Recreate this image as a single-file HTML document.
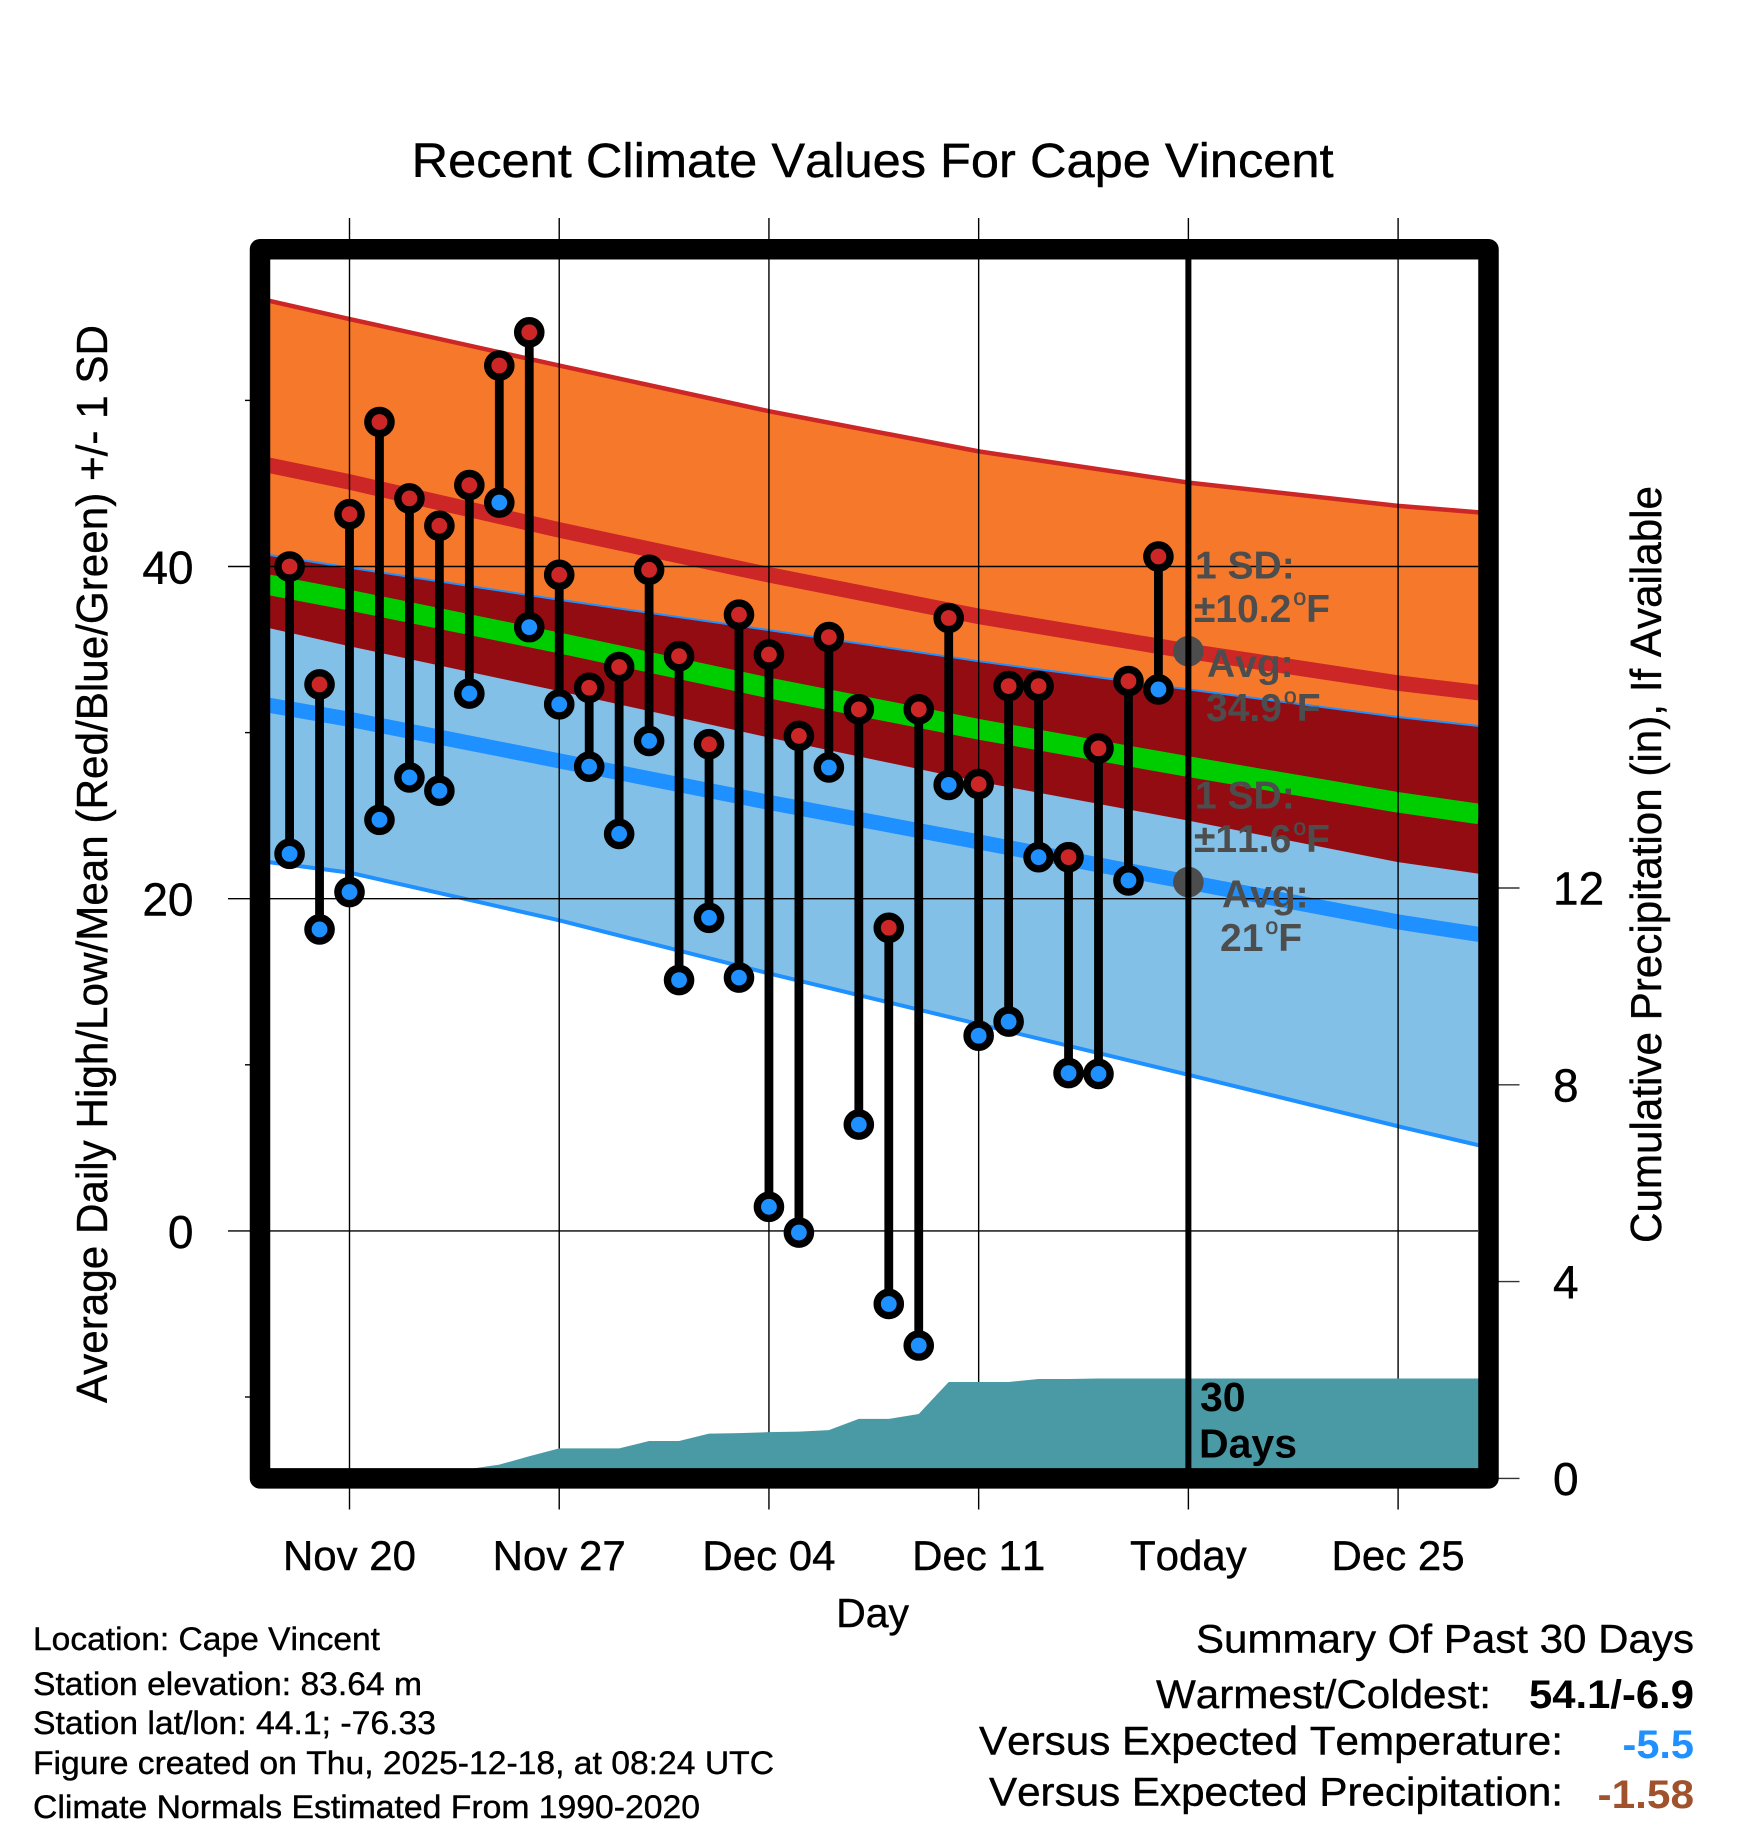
<!DOCTYPE html>
<html lang="en">
<head>
<meta charset="utf-8">
<title>Recent Climate Values For Cape Vincent</title>
<style>
html,body{margin:0;padding:0;background:#fff;}
svg{display:block;}
text{font-family:"Liberation Sans",sans-serif;fill:#000;font-kerning:none;stroke:#000;stroke-width:.4;}
text[font-weight]{stroke:none;}
.ann{font-weight:bold;font-size:39px;fill:#4d4d4d;stroke:none;}
.sup{font-size:23px;font-weight:normal;stroke:#4d4d4d;stroke-width:.5;}
</style>
</head>
<body>
<svg id="chart" xmlns="http://www.w3.org/2000/svg" width="1748" height="1828" viewBox="0 0 1748 1828">
  <rect width="1748" height="1828" fill="#fff"/>
  <g id="bands"></g>
  <g id="grid"></g>
  <g id="precip"></g>
  <g id="marks"></g>
  <g id="frame"></g>
  <g id="ticklabels"></g>

  <text x="872.6" y="176.8" text-anchor="middle" font-size="48" textLength="922" lengthAdjust="spacingAndGlyphs">Recent Climate Values For Cape Vincent</text>
  <text transform="translate(107,864) rotate(-90)" text-anchor="middle" font-size="44" textLength="1078" lengthAdjust="spacingAndGlyphs">Average Daily High/Low/Mean (Red/Blue/Green) +/- 1 SD</text>
  <text transform="translate(1661,864.5) rotate(-90)" text-anchor="middle" font-size="44" textLength="757" lengthAdjust="spacingAndGlyphs">Cumulative Precipitation (in), If Available</text>
  <text x="872.6" y="1627" text-anchor="middle" font-size="41">Day</text>

  <text class="ann" x="1195" y="578.6">1 SD:</text>
  <text class="ann" x="1194" y="622">±10.2<tspan class="sup" dx="2" dy="-17">o</tspan><tspan dy="17">F</tspan></text>
  <text class="ann" x="1207" y="676.8">Avg:</text>
  <text class="ann" x="1206" y="721">34.9<tspan class="sup" dx="2" dy="-17">o</tspan><tspan dy="17">F</tspan></text>
  <text class="ann" x="1195" y="808.5">1 SD:</text>
  <text class="ann" x="1194" y="851.8">±11.6<tspan class="sup" dx="2" dy="-17">o</tspan><tspan dy="17">F</tspan></text>
  <text class="ann" x="1222" y="907.6">Avg:</text>
  <text class="ann" x="1220" y="951">21<tspan class="sup" dx="2" dy="-17">o</tspan><tspan dy="17">F</tspan></text>
  <text x="1200" y="1411" font-size="41" font-weight="bold">30</text>
  <text x="1199" y="1457.5" font-size="41" font-weight="bold">Days</text>

  <text x="33" y="1650" font-size="32" textLength="347" lengthAdjust="spacingAndGlyphs">Location: Cape Vincent</text>
  <text x="33" y="1695" font-size="32" textLength="389" lengthAdjust="spacingAndGlyphs">Station elevation: 83.64 m</text>
  <text x="33" y="1734" font-size="32" textLength="403" lengthAdjust="spacingAndGlyphs">Station lat/lon: 44.1; -76.33</text>
  <text x="33" y="1774" font-size="32" textLength="741" lengthAdjust="spacingAndGlyphs">Figure created on Thu, 2025-12-18, at 08:24 UTC</text>
  <text x="33" y="1818" font-size="32" textLength="667" lengthAdjust="spacingAndGlyphs">Climate Normals Estimated From 1990-2020</text>

  <text x="1196" y="1652.5" font-size="40" textLength="498" lengthAdjust="spacingAndGlyphs">Summary Of Past 30 Days</text>
  <text x="1156" y="1708" font-size="40" textLength="335" lengthAdjust="spacingAndGlyphs">Warmest/Coldest:</text>
  <text x="1529" y="1708" font-size="40" font-weight="bold" textLength="165" lengthAdjust="spacingAndGlyphs">54.1/-6.9</text>
  <text x="979" y="1754.6" font-size="40" textLength="584" lengthAdjust="spacingAndGlyphs">Versus Expected Temperature:</text>
  <text x="1622.5" y="1758" font-size="40" font-weight="bold" style="fill:#1e90ff" textLength="71.5" lengthAdjust="spacingAndGlyphs">-5.5</text>
  <text x="989" y="1805.7" font-size="40" textLength="574" lengthAdjust="spacingAndGlyphs">Versus Expected Precipitation:</text>
  <text x="1597.5" y="1808" font-size="40" font-weight="bold" style="fill:#a0522d" textLength="96.5" lengthAdjust="spacingAndGlyphs">-1.58</text>
</svg>

<script>
// Days are counted from Nov 20 (day 0).
const pointDays = [-2,-1,0,1,2,3,4,5,6,7,8,9,10,11,12,13,14,15,16,17,18,19,20,21,22,23,24,25,26,27];
const dailyHigh = [40.0,32.9,43.15,48.7,44.1,42.45,44.9,52.1,54.1,39.5,32.7,33.95,39.8,34.6,29.3,37.1,34.7,29.8,35.75,31.4,18.25,31.4,36.9,26.9,32.8,32.8,22.5,29.05,33.1,40.6];
const dailyLow = [22.7,18.15,20.4,24.75,27.3,26.5,32.35,43.85,36.35,31.7,27.95,23.9,29.5,15.1,18.85,15.25,1.45,-0.1,27.9,6.4,-4.4,-6.9,26.85,11.75,12.6,22.5,9.5,9.45,21.1,32.6];

const normalDays = [-2.7,0,7,14,21,28,35,37.7];
const highPlusSd = [56.0,54.9,52.1,49.35,46.93,45.05,43.65,43.26];
const highMean = [46.1,45.09,42.2,39.5,37.0,34.9,32.98,32.4];
const highMinusSd = [36.3,35.2,32.5,29.7,27.05,24.7,22.2,21.5];
const midMean = [38.9,37.97,35.4,32.69,30.2,27.95,25.8,25.1];
const lowPlusSd = [40.7,39.93,38.0,36.17,34.3,32.6,30.94,30.4];
const lowMean = [31.65,30.8,28.3,25.8,23.42,21.0,18.6,17.85];
const lowMinusSd = [22.2,21.57,18.7,15.5,12.45,9.4,6.3,5.15];

const precipDays = [-2,-1,0,1,2,3,4,5,6,7,8,9,10,11,12,13,14,15,16,17,18,19,20,21,22,23,24,25,26,27,28,37.7];
const precipTotal = [0,0,0,0,0,0,0.19,0.28,0.45,0.61,0.61,0.61,0.76,0.76,0.91,0.92,0.94,0.95,0.98,1.21,1.21,1.31,1.96,1.96,1.96,2.02,2.02,2.03,2.03,2.03,2.03,2.03];

const xTickDays = [0,7,14,21,28,35];
const xTickLabels = ["Nov 20","Nov 27","Dec 04","Dec 11","Today","Dec 25"];
const yMajorTicks = [0,20,40];
const yMinorTicks = [-10,10,30,50];
const precipTicks = [0,4,8,12];
const todayDay = 28;
const todayHighAvg = 34.9;
const todayLowAvg = 21;

const NS = "http://www.w3.org/2000/svg";
function xOf(day){ return 349.5 + day * 29.96; }
function yOf(temp){ return 1230.9 - temp * 16.61; }
function pOf(inches){ return 1478.4 - inches * 49.2; }

function make(tag, parent, attrs){
  const el = document.createElementNS(NS, tag);
  for (const k in attrs) el.setAttribute(k, attrs[k]);
  parent.appendChild(el);
  return el;
}
function pts(days, vals, scale){
  return days.map(function(d, i){ return xOf(d).toFixed(2) + "," + scale(vals[i]).toFixed(2); });
}
function bandPoints(upper, lower){
  return pts(normalDays, upper, yOf).concat(pts(normalDays, lower, yOf).reverse()).join(" ");
}
function linePoints(vals){
  return pts(normalDays, vals, yOf).join(" ");
}

const bands = document.getElementById("bands");
const grid = document.getElementById("grid");
const precip = document.getElementById("precip");
const marks = document.getElementById("marks");
const frame = document.getElementById("frame");
const tickLabels = document.getElementById("ticklabels");

let el;
el = make("polygon", bands, {points: bandPoints(highPlusSd, highMinusSd), fill: "#f6792b"});


el = make("polygon", bands, {points: bandPoints(lowPlusSd, lowMinusSd), fill: "#83c0e8"});


el = make("polygon", bands, {points: bandPoints(lowPlusSd, highMinusSd), fill: "#930c12"});


el = make("polyline", bands, {points: linePoints(highPlusSd), fill: "none", stroke: "#cd2626", "stroke-width": 4.5});


el = make("polyline", bands, {points: linePoints(highMean), fill: "none", stroke: "#cd2626", "stroke-width": 15.5});


el = make("polyline", bands, {points: linePoints(lowPlusSd), fill: "none", stroke: "#1e90ff", "stroke-width": 2});


el = make("polyline", bands, {points: linePoints(lowMinusSd), fill: "none", stroke: "#1e90ff", "stroke-width": 4});


el = make("polyline", bands, {points: linePoints(lowMean), fill: "none", stroke: "#1e90ff", "stroke-width": 15});


el = make("polyline", bands, {points: linePoints(midMean), fill: "none", stroke: "#00cd00", "stroke-width": 20.5});



xTickDays.forEach(function(d, i){
  const line = make("line", grid, {x1: xOf(d), x2: xOf(d), y1: 218, y2: 1509.5, stroke: "#000", "stroke-width": 1.4});
  
  
  const label = make("text", tickLabels, {x: xOf(d), y: 1570, "text-anchor": "middle", "font-size": 42});
  label.textContent = xTickLabels[i];
  
  
});
yMajorTicks.forEach(function(v){
  const line = make("line", grid, {x1: 228, x2: 1478, y1: yOf(v), y2: yOf(v), stroke: "#000", "stroke-width": 1.4});
  
  
  const label = make("text", tickLabels, {x: 193.5, y: yOf(v) + 17, "text-anchor": "end", "font-size": 46});
  label.textContent = String(v);
  
  
});
yMinorTicks.forEach(function(v){
  const line = make("line", grid, {x1: 245, x2: 260, y1: yOf(v), y2: yOf(v), stroke: "#000", "stroke-width": 1.4});
  
  
});
precipTicks.forEach(function(v){
  const line = make("line", grid, {x1: 1490, x2: 1519.5, y1: pOf(v), y2: pOf(v), stroke: "#333", "stroke-width": 1.4});
  
  
  const label = make("text", tickLabels, {x: 1553, y: pOf(v) + 16.5, "font-size": 46});
  label.textContent = String(v);
  
  
});

const precipPoints = pts(precipDays, precipTotal, pOf);
precipPoints.push(xOf(precipDays[precipDays.length - 1]).toFixed(2) + "," + pOf(0).toFixed(2));
precipPoints.push(xOf(precipDays[0]).toFixed(2) + "," + pOf(0).toFixed(2));
el = make("polygon", precip, {points: precipPoints.join(" "), fill: "#4a9aa5"});



pointDays.forEach(function(d, i){
  const stem = make("line", marks, {x1: xOf(d), x2: xOf(d), y1: yOf(dailyHigh[i]), y2: yOf(dailyLow[i]), stroke: "#000", "stroke-width": 8.8});
  
  
});
pointDays.forEach(function(d, i){
  const hi = make("circle", marks, {cx: xOf(d), cy: yOf(dailyHigh[i]), r: 11.6, fill: "#cd2626", stroke: "#000", "stroke-width": 7.4});
  
  
  const lo = make("circle", marks, {cx: xOf(d), cy: yOf(dailyLow[i]), r: 11.6, fill: "#1e90ff", stroke: "#000", "stroke-width": 7.4});
  
  
});

el = make("circle", frame, {cx: xOf(todayDay), cy: yOf(todayHighAvg), r: 15.3, fill: "#4d4d4d"});


el = make("circle", frame, {cx: xOf(todayDay), cy: yOf(todayLowAvg), r: 15.3, fill: "#4d4d4d"});


el = make("line", frame, {x1: xOf(todayDay), x2: xOf(todayDay), y1: 250, y2: 1470, stroke: "#000", "stroke-width": 6});


el = make("rect", frame, {x: 260, y: 249.2, width: 1228.5, height: 1229.2, fill: "none", stroke: "#000", "stroke-width": 20.5, "stroke-linejoin": "round"});


</script>
</body>
</html>
